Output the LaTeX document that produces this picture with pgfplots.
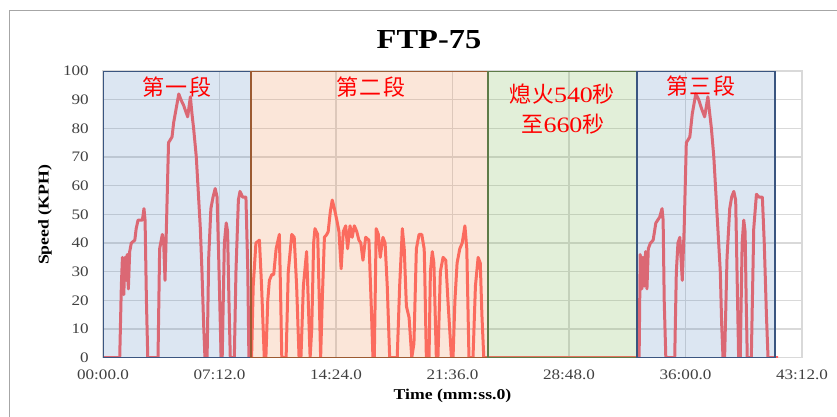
\documentclass[border=0pt]{standalone}
\usepackage{fontspec}
\setmainfont{Liberation Serif}[FakeStretch=1.18]
\newfontfamily\cjk{Noto Sans CJK TC}
\usepackage{pgfplots}
\pgfplotsset{compat=1.18}

\definecolor{gridgray}{HTML}{D9D9D9}
\definecolor{framegray}{HTML}{A6A6A6}
\definecolor{ticktext}{HTML}{404040}
\definecolor{speedred}{HTML}{FF6262}
\definecolor{bluefill}{HTML}{4F81BD}
\definecolor{blueedge}{HTML}{3A5580}
\definecolor{orangefill}{HTML}{ED8D52}
\definecolor{orangeedge}{HTML}{9C5B32}
\definecolor{greenfill}{HTML}{7BB652}
\definecolor{greenedge}{HTML}{5E7B48}

\begin{document}
\begin{tikzpicture}[x=1pt,y=1pt]
\useasboundingbox (0,0) rectangle (837,-417);
\draw[framegray, line width=1pt] (9.5,-417) -- (9.5,-11) -- (837,-11);

\begin{axis}[
    at={(103pt,-357.7pt)}, anchor=south west,
    scale only axis,
    width=699pt, height=286.7pt,
    xmin=0, xmax=2592,
    ymin=0, ymax=100,
    xtick={0,432,864,1296,1728,2160,2592},
    xticklabels={00:00.0,07:12.0,14:24.0,21:36.0,28:48.0,36:00.0,43:12.0},
    ytick={0,10,...,100},
    grid=major,
    grid style={gridgray, line width=1.2pt},
    axis line style={gridgray, line width=1.2pt},
    major tick length=0pt,
    tick label style={font=\fontsize{14.5}{16}\selectfont, text=ticktext},
    /pgf/number format/assume math mode=true,
    yticklabel style={anchor=east, inner sep=0pt, xshift=-14pt},
    xticklabel style={anchor=north, inner sep=0pt, yshift=-12pt},
]
% speed trace (s, km/h)
\addplot[speedred, line width=3pt, mark=none, line join=round] coordinates {
(0,0)(62,0)(68,25)(72,35)(77,22)(82,35)(86,27)(90,36)(94,24)(99,37)
(105,40)(118,41)(123,45)(130,48)(146,48)(152,52)(156,48)(161,20)(166,0)
(204,0)(210,38)(220,43)(225,40)(230,27)(235,45)(243,75)(256,77)(262,82)
(281,92)(289,90)(299,88)(314,84)(324,91)(330,85)(336,80)(346,70)(355,55)
(361,45)(367,30)(373,12)(378,0)(386,0)(392,35)(400,52)(408,56)(416,59)
(423,56)(429,35)(438,0)(442,0)(450,40)(457,47)(462,44)(467,20)(472,0)
(487,0)(493,30)(502,55)(508,58)(518,56)(530,56)(537,30)(541,0)
(551,0)(557,25)(567,40)(580,41)(588,25)(598,0)(604,0)(611,20)(617,27)
(626,29)(633,29)(642,38)(654,43)(659,20)(663,0)(679,0)(687,30)(700,43)
(709,42)(718,25)(727,0)(734,0)(743,25)(755,37)(761,20)(768,0)(774,10)
(781,40)(786,45)(796,43)(802,20)(807,0)(813,20)(821,42)(830,43)(835,44)
(843,51)(850,55)(858,52)(867,48)(875,44)(883,31)(891,44)(900,46)(907,38)
(916,46)(924,42)(932,46)(941,44)(949,41)(956,40)(964,34)(974,42)(986,41)
(994,20)(1001,0)(1006,0)(1013,45)(1021,43)(1028,35)(1038,42)(1046,40)
(1054,25)(1063,0)(1091,0)(1100,25)(1110,45)(1117,38)(1125,18)(1135,14)
(1145,0)(1153,5)(1162,38)(1172,43)(1182,43)(1191,38)(1193,30)(1199,0)
(1209,0)(1214,30)(1221,37)(1227,33)(1236,0)(1242,0)(1251,30)(1261,35)
(1271,34)(1279,20)(1292,0)(1298,0)(1305,20)(1313,33)(1323,38)(1332,40)
(1342,46)(1349,38)(1357,0)(1372,0)(1381,25)(1391,35)(1399,33)(1405,15)
(1412,0)(1988,0)(1992,36)(1998,24)(2002,35)(2007,25)(2012,37)(2017,24)
(2022,38)(2030,40)(2040,41)(2050,47)(2064,49)(2073,52)(2077,48)(2081,20)
(2087,0)(2120,0)(2126,30)(2132,40)(2139,42)(2148,27)(2155,45)(2163,75)
(2176,77)(2185,85)(2198,92)(2209,90)(2219,87)(2231,84)(2243,91)(2250,85)
(2256,80)(2265,70)(2274,55)(2280,45)(2289,30)(2294,12)(2299,0)(2305,0)
(2314,35)(2324,52)(2331,56)(2339,58)(2346,55)(2351,30)(2357,0)(2363,0)
(2370,40)(2376,48)(2381,44)(2385,20)(2389,0)(2404,0)(2413,45)(2423,57)
(2433,56)(2445,56)(2452,40)(2460,15)(2466,0)(2503,0)
};
% test phases
\addplot[draw=blueedge, line width=1.8pt, fill=bluefill, fill opacity=0.2]
    coordinates {(0,0)(0,100)(548,100)(548,0)} \closedcycle;
\addplot[draw=orangeedge, line width=1.8pt, fill=orangefill, fill opacity=0.22]
    coordinates {(548,0)(548,100)(1429,100)(1429,0)} \closedcycle;
\addplot[draw=greenedge, line width=1.8pt, fill=greenfill, fill opacity=0.22]
    coordinates {(1429,0)(1429,100)(1980,100)(1980,0)} \closedcycle;
\addplot[draw=blueedge, line width=1.8pt, fill=bluefill, fill opacity=0.2]
    coordinates {(1980,0)(1980,100)(2491,100)(2491,0)} \closedcycle;
\end{axis}

\node[font=\fontsize{27.5}{30}\selectfont\bfseries] at (429,-40) {FTP-75};
\node[font=\fontsize{15}{17}\selectfont\bfseries, rotate=90] at (45,-215) {Speed (KPH)};
\node[font=\fontsize{15}{17}\selectfont\bfseries] at (452.5,-396) {Time (mm:ss.0)};

\begin{scope}[every node/.style={text=red, inner sep=0pt}]
\node[font=\fontsize{22}{24}\selectfont\cjk] at (177,-87) {第\hspace{2pt}一\hspace{2pt}段};
\node[font=\fontsize{22}{24}\selectfont\cjk] at (371,-87) {第\hspace{2pt}二\hspace{2pt}段};
\node[font=\fontsize{22}{24}\selectfont] at (562,-94) {{\cjk 熄\hspace{1pt}火}540{\cjk 秒}};
\node[font=\fontsize{22}{24}\selectfont] at (563,-124) {{\cjk 至}660{\cjk 秒}};
\node[font=\fontsize{22}{24}\selectfont\cjk] at (701,-86.5) {第\hspace{2pt}三\hspace{2pt}段};
\end{scope}
\end{tikzpicture}
\end{document}
